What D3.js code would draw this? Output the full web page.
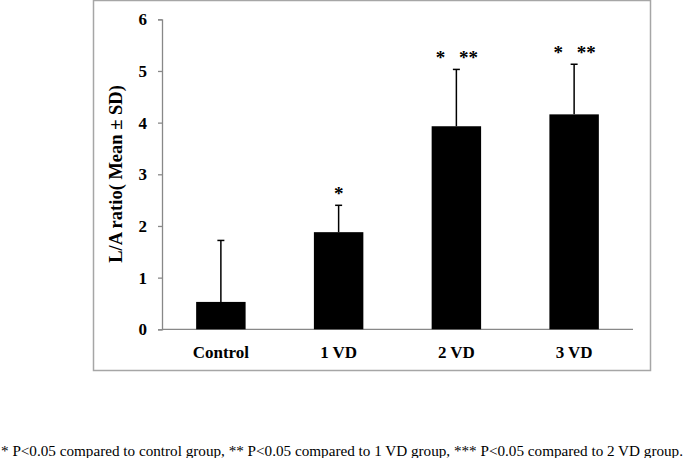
<!DOCTYPE html>
<html>
<head>
<meta charset="utf-8">
<script src="https://cdn.jsdelivr.net/npm/d3@7"></script>
<style>
  body { margin: 0; background: #fff; }
  text { font-family: "Liberation Serif", "Times New Roman", serif; }
</style>
</head>
<body>
<div id="chart"></div>
<script>
// Data
const groups = ["Control", "1 VD", "2 VD", "3 VD"];
const means = [0.53, 1.88, 3.93, 4.16];
const sds = [1.19, 0.52, 1.10, 0.97];
const marks = [[], ["*"], ["*", "**"], ["*", "**"]];
const yTicks = [0, 1, 2, 3, 4, 5, 6];

const width = 685, height = 458;

const svg = d3.select("#chart").append("svg")
    .attr("width", width)
    .attr("height", height);

// outer frame
svg.append("rect")
    .attr("x", 93.5).attr("y", 0.5)
    .attr("width", 557).attr("height", 370)
    .attr("fill", "none")
    .attr("stroke", "#a6a6a6")
    .attr("stroke-width", 1.5);

const x = d3.scaleBand()
    .domain(groups)
    .range([162, 633])
    .paddingInner(0.58)
    .paddingOuter(0.29);

const y = d3.scaleLinear()
    .domain([0, 6])
    .range([329.3, 19.3]);

// y axis
const yAxis = svg.append("g")
    .attr("transform", "translate(162,0)")
    .call(d3.axisLeft(y).tickValues(yTicks).tickSize(4).tickPadding(11).tickFormat(d3.format("d")));
yAxis.select(".domain").attr("stroke", "#888").attr("stroke-width", 1.3);
yAxis.selectAll(".tick line").attr("stroke", "#888").attr("stroke-width", 1.3);
yAxis.selectAll(".tick text")
    .attr("font-size", 17).attr("font-weight", "bold")
    .attr("font-family", "Liberation Serif").attr("fill", "#000");

// x axis line
svg.append("line")
    .attr("x1", 162).attr("x2", 633)
    .attr("y1", y(0)).attr("y2", y(0))
    .attr("stroke", "#888").attr("stroke-width", 1.3);

// category labels
svg.selectAll(".cat")
    .data(groups)
    .enter().append("text")
    .attr("class", "cat")
    .attr("x", d => x(d) + x.bandwidth() / 2)
    .attr("y", 358)
    .attr("text-anchor", "middle")
    .attr("font-size", 17)
    .attr("font-weight", "bold")
    .text(d => d);

// y title
svg.append("text")
    .attr("transform", "translate(122,174) rotate(-90)")
    .attr("text-anchor", "middle")
    .attr("font-size", 18.5)
    .attr("font-weight", "bold")
    .text("L/A ratio( Mean \u00b1 SD)");

// bars
svg.selectAll(".bar")
    .data(groups)
    .enter().append("rect")
    .attr("class", "bar")
    .attr("x", d => x(d))
    .attr("y", (d, i) => y(means[i]))
    .attr("width", x.bandwidth())
    .attr("height", (d, i) => y(0) - y(means[i]))
    .attr("fill", "#000");

// error bars (upper only)
const cx = d => x(d) + x.bandwidth() / 2;
svg.selectAll(".err")
    .data(groups)
    .enter().append("line")
    .attr("x1", cx).attr("x2", cx)
    .attr("y1", (d, i) => y(means[i]))
    .attr("y2", (d, i) => y(means[i] + sds[i]))
    .attr("stroke", "#000").attr("stroke-width", 1.5);
svg.selectAll(".cap")
    .data(groups)
    .enter().append("line")
    .attr("x1", d => cx(d) - 3.5).attr("x2", d => cx(d) + 3.5)
    .attr("y1", (d, i) => y(means[i] + sds[i]))
    .attr("y2", (d, i) => y(means[i] + sds[i]))
    .attr("stroke", "#000").attr("stroke-width", 1.5);

// significance stars
groups.forEach((g, i) => {
    const top = y(means[i] + sds[i]);
    const m = marks[i];
    if (m.length === 1) {
        svg.append("text")
            .attr("x", cx(g)).attr("y", top - 5)
            .attr("text-anchor", "middle")
            .attr("font-size", 19).attr("font-weight", "bold")
            .text(m[0]);
    } else if (m.length === 2) {
        svg.append("text")
            .attr("x", cx(g) - 16).attr("y", top - 5)
            .attr("text-anchor", "middle")
            .attr("font-size", 19).attr("font-weight", "bold")
            .text(m[0]);
        svg.append("text")
            .attr("x", cx(g) + 12).attr("y", top - 5)
            .attr("text-anchor", "middle")
            .attr("font-size", 19).attr("font-weight", "bold")
            .text(m[1]);
    }
});

// footnote
svg.append("text")
    .attr("x", 1).attr("y", 456)
    .attr("font-size", 15)
    .attr("textLength", 682)
    .attr("lengthAdjust", "spacingAndGlyphs")
    .text("* P<0.05 compared to control group, ** P<0.05 compared to 1 VD group, *** P<0.05 compared to 2 VD group.");
</script>
</body>
</html>
